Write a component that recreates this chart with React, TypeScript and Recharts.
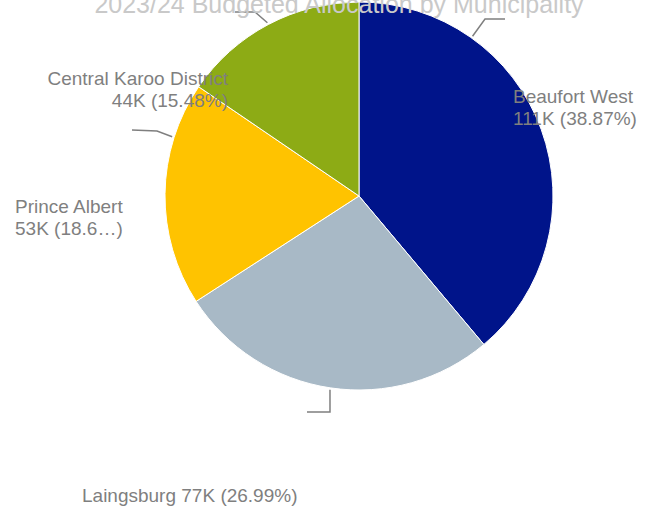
import { PieChart, Pie, Cell } from 'recharts';

const municipalities = ['Beaufort West', 'Laingsburg', 'Prince Albert', 'Central Karoo District'];
const allocations = [111010, 77080, 53290, 44210];
const sliceColors = ['#00148a', '#a8b9c6', '#ffc300', '#8dab15'];
const chartTitle = '2023/24 Budgeted Allocation by Municipality';

// label placement, offsets from the pie centre (angles clockwise from 12 o'clock)
const labelLayout = [
  { leaderAngle: 35.4, elbow: [126, -177], end: [146, -177], text: [154, -93], anchor: 'start', oneLine: false, clip: 0 },
  { leaderAngle: null, elbow: [-29, 216], end: [-52, 216], text: [-277, 306], anchor: 'start', oneLine: true, clip: 0 },
  { leaderAngle: 287.6, elbow: [-202, -65], end: [-227, -66], text: [-344, 17], anchor: 'start', oneLine: false, clip: 9 },
  { leaderAngle: null, elbow: [-104, -184], end: [-124, -184], text: [-131, -111], anchor: 'end', oneLine: false, clip: 0 },
];

const data = municipalities.map((name, i) => ({ name, value: allocations[i] }));

const FONT = '"Liberation Sans", Arial, sans-serif';
const TEXT_GREY = '#7f7f7f';

const renderLabel = (props: any) => {
  const { cx, cy, midAngle, outerRadius, index, value, percent, name } = props;
  const lay = labelLayout[index];
  const deg = lay.leaderAngle == null ? midAngle : 90 - lay.leaderAngle;
  const rad = (-deg * Math.PI) / 180;
  const sx = cx + (outerRadius + 2) * Math.cos(rad);
  const sy = cy + (outerRadius + 2) * Math.sin(rad);
  const pts = `${sx},${sy} ${cx + lay.elbow[0]},${cy + lay.elbow[1]} ${cx + lay.end[0]},${cy + lay.end[1]}`;

  let detail = `${Math.round(value / 1000)}K (${(percent * 100).toFixed(2)}%)`;
  if (lay.clip) detail = detail.slice(0, lay.clip) + '\u2026)';
  const tx = cx + lay.text[0];
  const ty = cy + lay.text[1];

  return (
    <g key={`lbl-${index}`}>
      <polyline points={pts} fill="none" stroke={TEXT_GREY} strokeWidth={1.5} />
      <text x={tx} y={ty} textAnchor={lay.anchor} fill={TEXT_GREY} fontSize={19} fontFamily={FONT}>
        {lay.oneLine ? (
          `${name} ${detail}`
        ) : (
          <>
            <tspan x={tx} dy={0}>{name}</tspan>
            <tspan x={tx} dy={22}>{detail}</tspan>
          </>
        )}
      </text>
    </g>
  );
};

export default function App() {
  return (
    <div style={{ position: 'fixed', left: 0, top: 0, width: 653, height: 508, background: '#fff' }}>
      <PieChart width={653} height={508} margin={{ top: 0, right: 0, bottom: 0, left: 0 }}>
        <Pie
          data={data}
          dataKey="value"
          nameKey="name"
          cx={359}
          cy={196}
          outerRadius={194}
          startAngle={90}
          endAngle={-270}
          stroke="#ffffff"
          strokeWidth={1}
          labelLine={false}
          label={renderLabel}
          isAnimationActive={false}
        >
          {data.map((d, i) => (
            <Cell key={d.name} fill={sliceColors[i]} />
          ))}
        </Pie>
      </PieChart>
      <svg
        width={653}
        height={508}
        style={{ position: 'absolute', left: 0, top: 0, pointerEvents: 'none' }}
      >
        <text x={339} y={13} textAnchor="middle" fill="#c9c9c9" fontSize={25} fontFamily={FONT}>
          {chartTitle}
        </text>
      </svg>
    </div>
  );
}
